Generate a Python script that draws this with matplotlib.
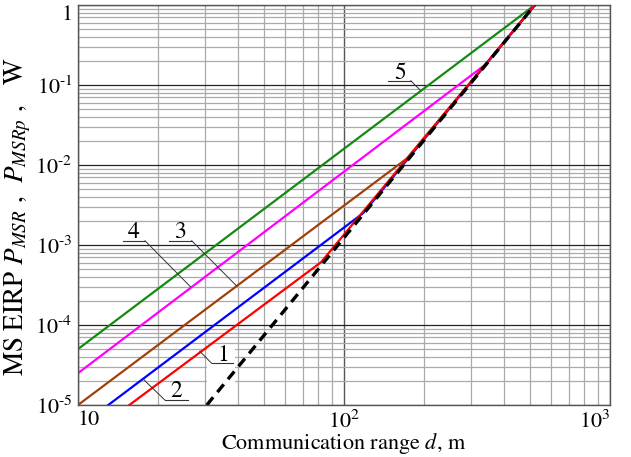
import numpy as np
import matplotlib
matplotlib.use("Agg")
import matplotlib.pyplot as plt
from matplotlib.ticker import LogLocator, NullFormatter

plt.rcParams['font.family'] = ['STIXGeneral', 'DejaVu Serif']
plt.rcParams['mathtext.fontset'] = 'stix'

# curves: (range in m, EIRP in W)
d_green = [10, 522]
p_green = [5e-5, 1.0]
d_magenta = [10, 340, 522]
p_magenta = [2.5e-5, 0.18, 1.0]
d_brown = [10, 172, 522]
p_brown = [1e-5, 0.012, 1.0]
d_blue = [13, 118, 522]
p_blue = [1e-5, 2.5e-3, 1.0]
d_red = [15.6, 82, 522]
p_red = [1e-5, 6.1e-4, 1.0]
d_dash = [30.5, 522]
p_dash = [1e-5, 1.0]

xticks = [10, 100, 1000]
xticklabels = ['10', '$\\mathregular{10^2}$', '$\\mathregular{10^3}$']
yticks = [1e-5, 1e-4, 1e-3, 1e-2, 1e-1, 1]
yticklabels = ['$\\mathregular{10^{\u20105}}$', '$\\mathregular{10^{\u20104}}$',
               '$\\mathregular{10^{\u20103}}$', '$\\mathregular{10^{\u20102}}$',
               '$\\mathregular{10^{\u20101}}$', '1']

fig = plt.figure(figsize=(6.31, 4.57), dpi=100)
ax = fig.add_axes([78 / 631, 1 - 405 / 457, 532 / 631, 400 / 457])
ax.set_xscale('log')
ax.set_yscale('log')
ax.set_xlim(10, 1000)
ax.set_ylim(1e-5, 1)
ax.set_axisbelow(True)

ax.xaxis.set_minor_locator(LogLocator(base=10, subs=np.arange(2, 10)))
ax.yaxis.set_minor_locator(LogLocator(base=10, subs=np.arange(2, 10)))
ax.xaxis.set_minor_formatter(NullFormatter())
ax.yaxis.set_minor_formatter(NullFormatter())
ax.grid(which='minor', color='#aaaaaa', lw=0.9)
ax.grid(which='major', axis='y', color='#222222', lw=0.9)
ax.grid(which='major', axis='x', color='#555555', lw=1.0)

ax.set_xticks(xticks)
ax.set_xticklabels(xticklabels)
ax.set_yticks(yticks)
ax.set_yticklabels(yticklabels)
ax.tick_params(which='both', length=0, labelsize=16, pad=4)
ax.get_yticklabels()[-1].set_va('top')
ax.get_xticklabels()[0].set_ha('left')
ax.get_xticklabels()[-1].set_ha('right')
for s in ax.spines.values():
    s.set_color('#555555')
    s.set_linewidth(1.0)

# white patch behind labels 1/2
ax.add_patch(plt.Rectangle((30.5, 1.05e-5), 8.5, 4.5e-5, facecolor='white',
                           edgecolor='none', zorder=1))

ax.plot(d_green, p_green, color='#138a13', lw=1.6, zorder=2)
ax.plot(d_magenta, p_magenta, color='#ff00ff', lw=1.6, zorder=2)
ax.plot(d_brown, p_brown, color='#a0400a', lw=1.6, zorder=2)
ax.plot(d_blue, p_blue, color='#0000ff', lw=1.6, zorder=2)
ax.plot(d_red, p_red, color='#ff0000', lw=1.6, zorder=2)
ax.plot(d_dash, p_dash, color='black', lw=2.4, ls=(0, (3, 2)), zorder=3)

# curve labels: text, underline, leader
labels = [
    ('5', (162.4, 0.14), (145.9, 178.2, 0.113), (178.2, 0.113), (193.2, 0.0866)),
    ('4', (16.14, 1.43e-3), (14.73, 17.86, 1.13e-3), (17.86, 1.13e-3), (26.5, 3.0e-4)),
    ('3', (24.2, 1.43e-3), (22.03, 26.76, 1.13e-3), (26.76, 1.13e-3), (39.5, 3.07e-4)),
    ('1', (35.2, 4.22e-5), (31.8, 38.4, 3.32e-5), (31.8, 3.32e-5), (28.7, 4.7e-5)),
    ('2', (23.5, 1.47e-5), (21.2, 26.0, 1.155e-5), (21.2, 1.155e-5), (17.6, 2.1e-5)),
]
for txt, tpos, ul, a, b in labels:
    ax.text(tpos[0], tpos[1], txt, fontsize=17, ha='center', va='center', zorder=4)
    ax.plot([ul[0], ul[1]], [ul[2], ul[2]], color='#333333', lw=0.8, zorder=4)
    ax.plot([a[0], b[0]], [a[1], b[1]], color='#333333', lw=0.7, zorder=4)

ax.set_xlabel('Communication range $d$, m', fontsize=16)
ax.xaxis.set_label_coords(0.5, -0.064)
ax.set_ylabel('MS EIRP $P_{MSR}$ ,  $P_{MSRp}$ ,   W', fontsize=19.5)
ax.yaxis.set_label_coords(-0.085, 0.47)

fig.savefig('out.png', dpi=100)
